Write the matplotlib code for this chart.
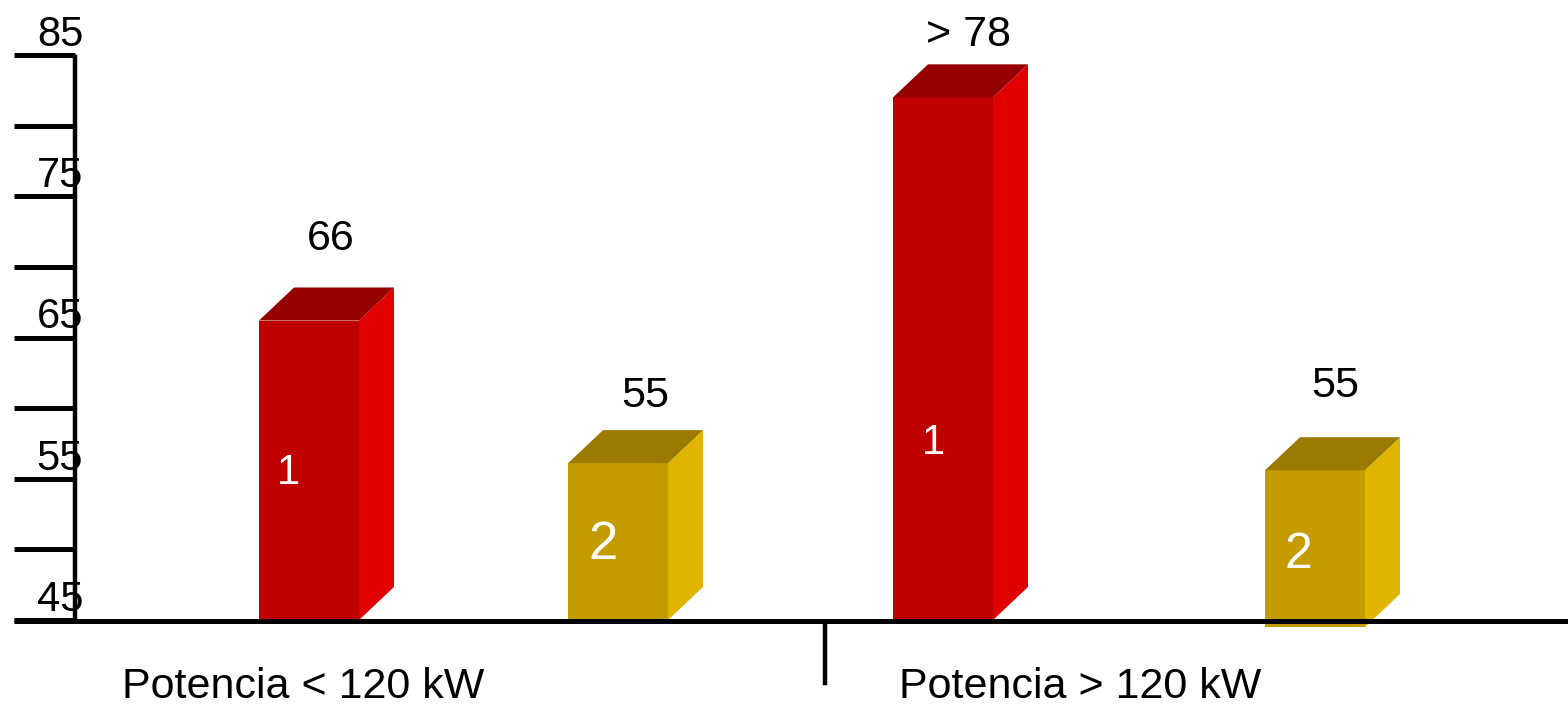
import matplotlib
matplotlib.use("Agg")
import matplotlib.pyplot as plt
from matplotlib.patches import Rectangle, Polygon

plt.rcParams['font.family'] = ['Liberation Sans', 'DejaVu Sans']

# data
groups = ['Potencia < 120 kW', 'Potencia > 120 kW']
bar_values = [66.2, 56.1, 82.0, 55.6]
bar_bases = [45.0, 45.0, 45.0, 44.5]
bar_series = ['1', '2', '1', '2']
value_labels = ['66', '55', '> 78', '55']
y_ticks = [45, 50, 55, 60, 65, 70, 75, 80, 85]
y_ticklabels = ['45', '', '55', '', '65', '', '75', '', '85']

# layout (x in units of 100 px)
bar_left = [2.59, 5.68, 8.93, 12.65]
bar_w = 1.0
depth_x = 0.35
depth_y = 2.34
label_dx = [0.04, 0.10, 0.08, 0.03]
label_dy = [3.4, 2.4, 2.1, 3.6]
inner_pos = [(2.88, 55.4), (6.03, 50.3), (9.33, 57.5), (12.98, 49.6)]
inner_size = [30, 38, 30, 36]
group_x = [3.03, 10.80]
group_y = [39.45, 39.45]

colors = {
    '1': ('#C00000', '#E10000', '#960000'),
    '2': ('#C49C00', '#E1B400', '#9A7A00'),
}

fig = plt.figure(figsize=(15.68, 7.09), dpi=100)
ax = fig.add_axes([0, 0, 1, 1])
ax.set_xlim(0, 15.68)
ax.set_ylim(38.699, 88.894)
ax.axis('off')

for i, val in enumerate(bar_values):
    x0 = bar_left[i]
    x1 = x0 + bar_w
    base = bar_bases[i]
    front, side, top = colors[bar_series[i]]
    ax.add_patch(Rectangle((x0, base), bar_w, val - base, facecolor=front,
                           edgecolor='none', zorder=2))
    ax.add_patch(Polygon([(x1, base), (x1 + depth_x, base + depth_y),
                          (x1 + depth_x, val + depth_y), (x1, val)],
                         facecolor=side, edgecolor='none', zorder=2))
    ax.add_patch(Polygon([(x0, val), (x0 + depth_x, val + depth_y),
                          (x1 + depth_x, val + depth_y), (x1, val)],
                         facecolor=top, edgecolor='none', zorder=2))
    ax.text(x0 + bar_w / 2 + depth_x / 2 + label_dx[i], val + depth_y + label_dy[i],
            value_labels[i], ha='center', va='center', fontsize=31, color='black')
    ax.text(inner_pos[i][0], inner_pos[i][1], bar_series[i], ha='center',
            va='center', fontsize=inner_size[i], color='white', zorder=3)

# axes lines
ax.plot([0.14, 15.68], [44.9, 44.9], color='black', lw=3.6, zorder=4,
        solid_capstyle='butt')
ax.plot([0.75, 0.75], [44.9, 84.85], color='black', lw=3.2, zorder=4)
ax.hlines(y_ticks, 0.14, 0.75, color='black', lw=3.6, zorder=4)
for t, lab in zip(y_ticks, y_ticklabels):
    if lab:
        ax.text(0.60, t + 0.65, lab, ha='center', va='baseline', fontsize=30,
                color='black', zorder=5)

ax.plot([8.25, 8.25], [44.65, 40.54], color='black', lw=3.2, zorder=4)
for gx, gy, g in zip(group_x, group_y, groups):
    ax.text(gx, gy, g, ha='center', va='baseline', fontsize=31, color='black')

fig.savefig('out.png', dpi=100)
